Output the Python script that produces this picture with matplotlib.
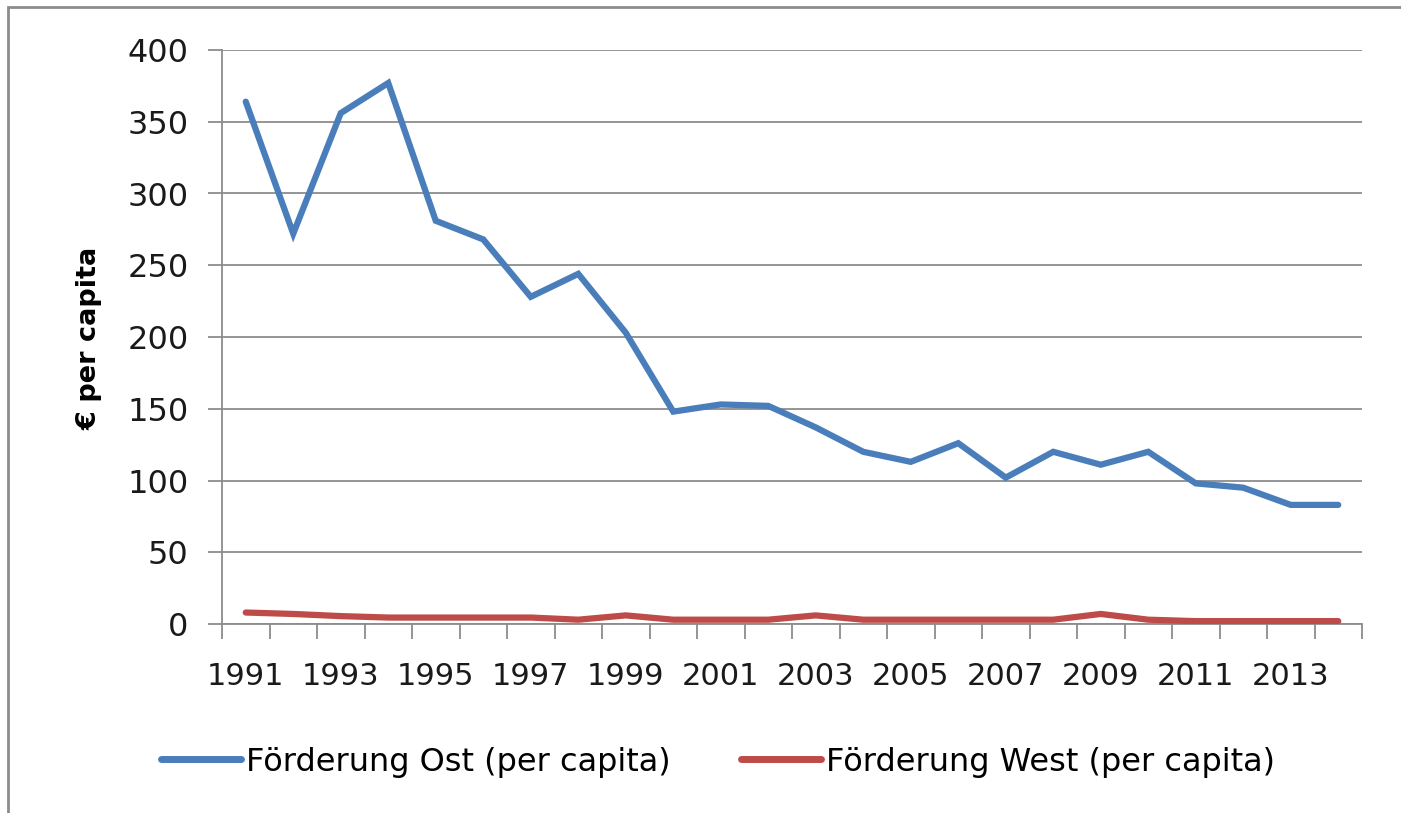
import matplotlib
matplotlib.use("Agg")
import matplotlib.pyplot as plt
from matplotlib.patches import Rectangle
import numpy as np

years = list(range(1991, 2015))
ost = [364, 272, 356, 377, 281, 268, 228, 244, 203, 148, 153, 152, 137, 120, 113, 126, 102, 120, 111, 120, 98, 95, 83, 83]
west = [8, 7, 5.5, 4.5, 4.5, 4.5, 4.5, 3, 6, 3, 3, 3, 6, 3, 3, 3, 3, 3, 7, 3, 2, 2, 2, 2]
yticks = [0, 50, 100, 150, 200, 250, 300, 350, 400]
label_ost = "Förderung Ost (per capita)"
label_west = "Förderung West (per capita)"
ylabel = "€ per capita"

W, H = 1401, 813
fig = plt.figure(figsize=(W / 100, H / 100), dpi=100)
fig.patch.set_facecolor("white")
ax = fig.add_axes([222 / W, 1 - 624 / H, (1362 - 222) / W, (624 - 50) / H])

x = np.arange(len(years))
ax.plot(x, ost, color="#4A7EBB", lw=4.5, solid_joinstyle="miter", solid_capstyle="round", label=label_ost, zorder=3)
ax.plot(x, west, color="#BE4B48", lw=4.5, solid_joinstyle="miter", solid_capstyle="round", label=label_west, zorder=3)

ax.set_xlim(-0.5, len(years) - 0.5)
ax.set_ylim(0, 400)
ax.set_yticks(yticks)
ax.yaxis.grid(True, color="#8C8C8C", lw=1.3)
ax.set_axisbelow(True)
for s in ["top", "right"]:
    ax.spines[s].set_visible(False)
for s in ["left", "bottom"]:
    ax.spines[s].set_color("#8C8C8C")
    ax.spines[s].set_linewidth(1.3)

ax.set_xticks(x[::2])
ax.set_xticklabels([str(y) for y in years[::2]])
ax.set_xticks(np.arange(-0.5, len(years)), minor=True)
ax.tick_params(axis="x", which="major", length=0, pad=27, labelsize=22)
ax.tick_params(axis="x", which="minor", length=11, width=1.3, color="#8C8C8C")
ax.tick_params(axis="y", length=10, width=1.3, color="#8C8C8C", labelsize=23, pad=14)
for t in ax.get_xticklabels() + ax.get_yticklabels():
    t.set_fontfamily("DejaVu Sans")
    t.set_color("#1a1a1a")

fig.text(90 / W, 1 - 338 / H, ylabel, rotation=90, ha="center", va="center",
         fontsize=19.5, fontweight="bold", fontfamily="DejaVu Sans")

leg = fig.legend(loc="center", bbox_to_anchor=(718 / W, 1 - 762 / H), ncol=2, frameon=False,
                 handlelength=2.5, columnspacing=2.2, handletextpad=0.15,
                 prop={"family": "DejaVu Sans", "size": 23})
for line in leg.get_lines():
    line.set_linewidth(5)

fig.add_artist(Rectangle((8 / W, -0.1), 1.2, 1 - 7 / H + 0.1, transform=fig.transFigure,
                         fill=False, edgecolor="#8C8C8C", lw=2))

fig.savefig("out.png", dpi=100, facecolor="white")
